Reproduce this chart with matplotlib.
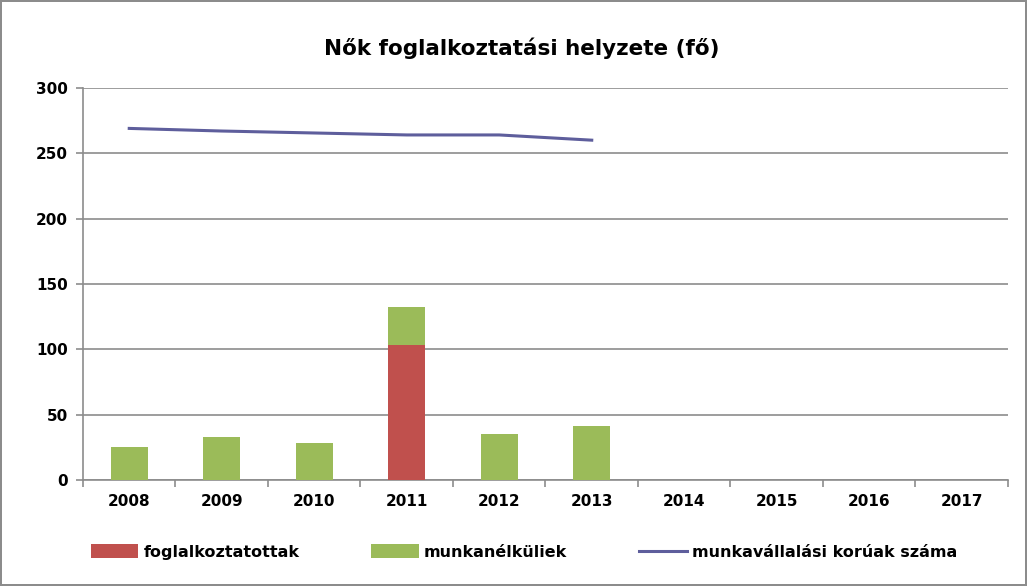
import numpy as np
import matplotlib.pyplot as plt

years = ['2008', '2009', '2010', '2011', '2012', '2013', '2014', '2015', '2016', '2017']
foglalkoztatottak = [0, 0, 0, 103, 0, 0, 0, 0, 0, 0]
munkanelkuliek = [25, 33, 28, 29, 35, 41, 0, 0, 0, 0]
korosztaly = [269, 267, 265.5, 264, 264, 260]

RED = '#C0504D'
GREEN = '#9BBB59'
LINE = '#5E5E9C'

fig = plt.figure(figsize=(10.27, 5.86), dpi=100)
fig.patch.set_edgecolor('#8C8C8C')
fig.patch.set_linewidth(1.5)
ax = fig.add_axes([0.0808, 0.181, 0.9007, 0.669])

x = np.arange(len(years))
b1 = ax.bar(x, foglalkoztatottak, width=0.4, color=RED, label='foglalkoztatottak', zorder=3)
b2 = ax.bar(x, munkanelkuliek, width=0.4, bottom=foglalkoztatottak, color=GREEN,
            label='munkanélküliek', zorder=3)
l1, = ax.plot(x[:len(korosztaly)], korosztaly, color=LINE, lw=2.2,
              label='munkavállalási korúak száma', zorder=4)

ax.set_xlim(-0.5, len(years) - 0.5)
ax.set_ylim(0, 300)
ax.set_yticks(range(0, 301, 50))
ax.set_xticks(x)
ax.set_xticklabels(years)
ax.set_xticks(np.arange(-0.5, len(years)), minor=True)
ax.tick_params(axis='x', which='major', length=0, pad=10)
ax.tick_params(axis='x', which='minor', length=5, color='#8C8C8C', width=1.2)
ax.tick_params(axis='y', length=5, color='#8C8C8C', width=1.2, pad=6)
for lab in ax.get_xticklabels() + ax.get_yticklabels():
    lab.set_fontweight('bold')
    lab.set_fontsize(11)

ax.grid(axis='y', color='#8C8C8C', lw=1.2, zorder=0)
ax.set_axisbelow(True)
for s in ['top', 'right']:
    ax.spines[s].set_visible(False)
for s in ['left', 'bottom']:
    ax.spines[s].set_color('#8C8C8C')
    ax.spines[s].set_linewidth(1.2)

fig.text(0.508, 0.918, 'Nők foglalkoztatási helyzete (fő)', ha='center', va='center',
         fontsize=15.5, fontweight='bold')

fig.legend([b1, b2, l1], [b1.get_label(), b2.get_label(), l1.get_label()],
           loc='center', bbox_to_anchor=(0.51, 0.058), ncol=3, frameon=False,
           prop={'weight': 'bold', 'size': 11.5}, handlelength=3.0,
           handleheight=0.9, columnspacing=4.5, handletextpad=0.3)

fig.savefig('out.png', dpi=100, edgecolor=fig.get_edgecolor())
